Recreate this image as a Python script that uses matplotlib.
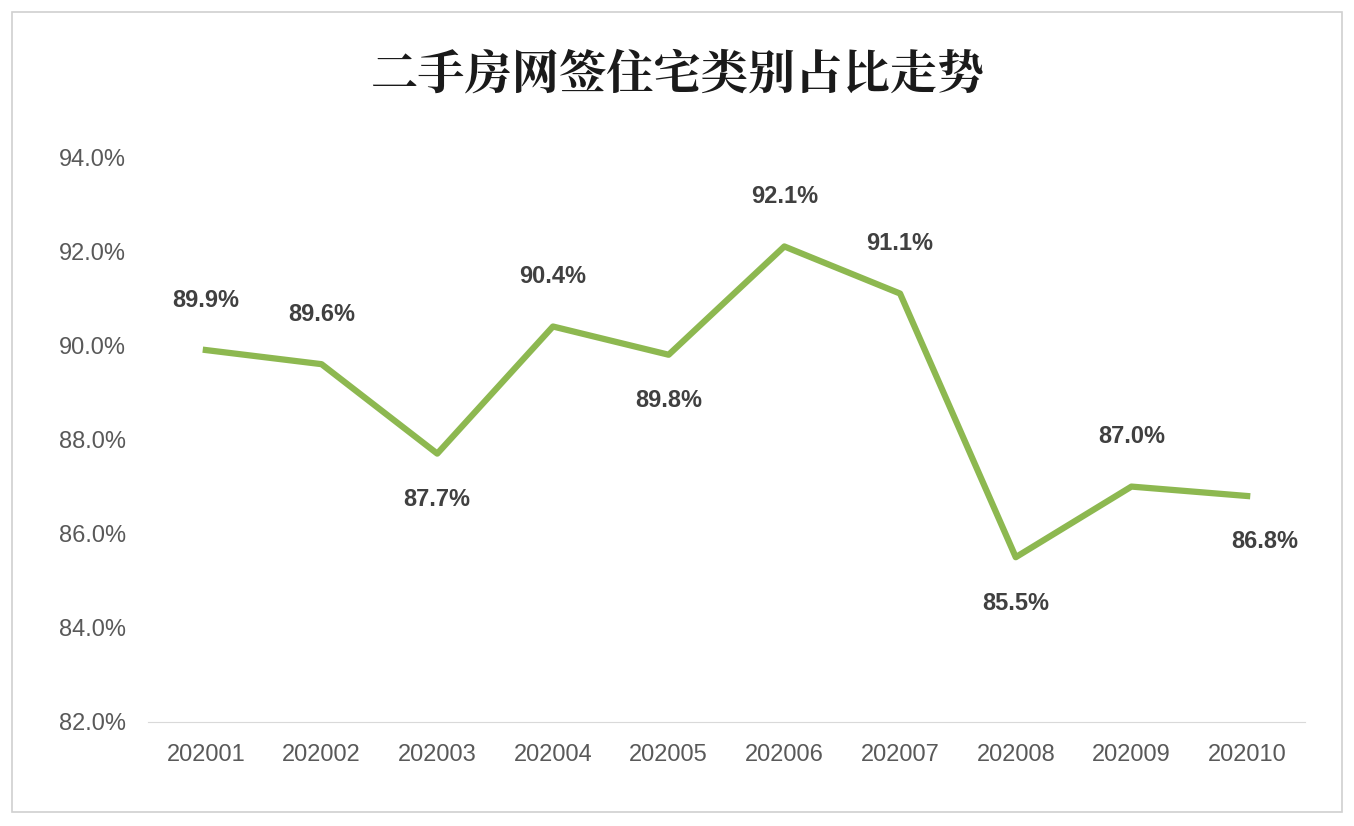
import matplotlib
matplotlib.use("Agg")
import matplotlib.pyplot as plt
from matplotlib.patches import Rectangle

plt.rcParams['font.family'] = ['Liberation Sans', 'Noto Sans CJK SC', 'DejaVu Sans']

months = ["202001","202002","202003","202004","202005","202006","202007","202008","202009","202010"]
values = [89.9, 89.6, 87.7, 90.4, 89.8, 92.1, 91.1, 85.5, 87.0, 86.8]
label_pos = ["above","above","below","above","below","above","above","below","above","below"]
yticks = [82, 84, 86, 88, 90, 92, 94]

fig = plt.figure(figsize=(13.54, 8.26), dpi=100)
fig.patches.append(Rectangle((0.009, 0.017), 0.982, 0.968, transform=fig.transFigure,
                             fill=False, edgecolor="#d0d0d0", lw=1.2))
ax = fig.add_axes([148/1354, 1-722/826, (1305-148)/1354, (722-157)/826])
x = list(range(len(months)))
ax.plot(x, values, color="#8DB850", lw=4.5, solid_joinstyle="round")
for i, (xi, v, p) in enumerate(zip(x, values, label_pos)):
    dy = 36 if p == "above" else -33
    dx = 13 if i == len(months) - 1 else 0
    ax.annotate(f"{v:.1f}%", (xi, v), xytext=(dx, dy), textcoords="offset points",
                ha="center", va="center", fontsize=17, fontweight="bold", color="#404040")
ax.set_xlim(-0.5, len(months)-0.5)
ax.set_ylim(82, 94)
ax.set_yticks(yticks)
ax.set_yticklabels([f"{t:.1f}%" for t in yticks])
ax.set_xticks(x)
ax.set_xticklabels(months)
ax.tick_params(length=0, labelsize=17, colors="#595959", pad=16)
for s in ["top", "right", "left"]:
    ax.spines[s].set_visible(False)
ax.spines["bottom"].set_color("#d9d9d9")
fig.text(0.5, 1-75/826, "二手房网签住宅类别占比走势", ha="center", va="center",
         fontsize=34, fontweight="bold", color="#1a1a1a",
         family=['Noto Serif CJK SC', 'Noto Sans CJK SC'])
fig.savefig("out.png", dpi=100, facecolor="white")
